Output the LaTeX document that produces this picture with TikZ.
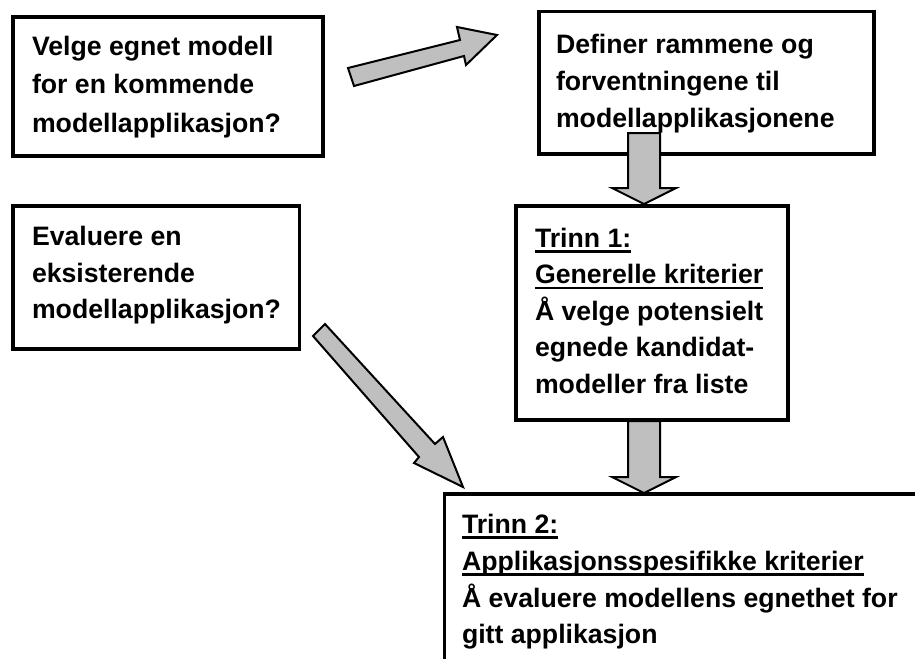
\documentclass[tikz,border=0pt]{standalone}
\usepackage{fontspec}
\setmainfont{Liberation Sans}
\begin{document}
\begin{tikzpicture}[x=0.75pt,y=-0.75pt,
  box/.style={draw=black,line width=2.6pt,rectangle,inner sep=0pt,outer sep=0pt,anchor=north west},
  txt/.style={anchor=base west,inner sep=0pt,outer sep=0pt,font=\fontsize{20}{24}\selectfont\bfseries},
  uline/.style={line width=2.2pt},
  blockarrow/.style={draw=black,fill=black!25,line width=1.5pt,line join=miter}]
\useasboundingbox (0,0) rectangle (915,658);
\clip (0,0) rectangle (915,658);
% boxes
\node[box,minimum width=310*0.75pt,minimum height=139*0.75pt] (b1) at (13,17) {};
\node[box,minimum width=335*0.75pt,minimum height=142.5*0.75pt] (b2) at (539,11.5) {};
\node[box,minimum width=286.5*0.75pt,minimum height=143*0.75pt] (b3) at (13,206) {};
\node[box,minimum width=272*0.75pt,minimum height=214*0.75pt] (b4) at (516,206) {};
\node[box,minimum width=500*0.75pt,minimum height=200*0.75pt] (b5) at (444.7,494) {};
% texts box 1
\node[txt] (t11) at (32,55) {Velge egnet modell};
\node[txt] (t12) at (32,93.5) {for en kommende};
\node[txt] (t13) at (32,132) {modellapplikasjon?};
% box 2
\node[txt] (t21) at (556,53) {Definer rammene og};
\node[txt] (t22) at (556,90) {forventningene til};
\node[txt] (t23) at (556,127) {modellapplikasjonene};
% box 3
\node[txt] (t31) at (32,245) {Evaluere en};
\node[txt] (t32) at (32,282) {eksisterende};
\node[txt] (t33) at (32,318.5) {modellapplikasjon?};
% box 4
\node[txt] (t41) at (535,247) {Trinn 1:};
\node[txt] (t42) at (535,283.5) {Generelle kriterier};
\node[txt] (t43) at (535,320) {Å velge potensielt};
\node[txt] (t44) at (535,356.5) {egnede kandidat-};
\node[txt] (t45) at (535,393) {modeller fra liste};
\draw[uline] ([yshift=-4.5*0.75pt]t41.base west) -- ([yshift=-4.5*0.75pt]t41.base east);
\draw[uline] ([yshift=-4.5*0.75pt]t42.base west) -- ([yshift=-4.5*0.75pt]t42.base east);
% box 5
\node[txt] (t51) at (462,533) {Trinn 2:};
\node[txt] (t52) at (462,570) {Applikasjonsspesifikke kriterier};
\node[txt] (t53) at (462,607) {Å evaluere modellens egnethet for};
\node[txt] (t54) at (462,643) {gitt applikasjon};
\draw[uline] ([yshift=-4.5*0.75pt]t51.base west) -- ([yshift=-4.5*0.75pt]t51.base east);
\draw[uline] ([yshift=-4.5*0.75pt]t52.base west) -- ([yshift=-4.5*0.75pt]t52.base east);
% block arrows
\draw[blockarrow] (348,68) -- (460,40) -- (457,27) -- (497,35) -- (466,65) -- (464,56) -- (354,86) -- cycle;
\draw[blockarrow] (325,324) -- (435,444) -- (443,437) -- (463,487) -- (414,463) -- (419,457) -- (313,336) -- cycle;
\draw[blockarrow] (628,133) -- (660,133) -- (660,188) -- (676,188) -- (644,204) -- (612,188) -- (628,188) -- cycle;
\draw[blockarrow] (628,421) -- (660,421) -- (660,477) -- (676,477) -- (644,493) -- (612,477) -- (628,477) -- cycle;
\end{tikzpicture}
\end{document}
